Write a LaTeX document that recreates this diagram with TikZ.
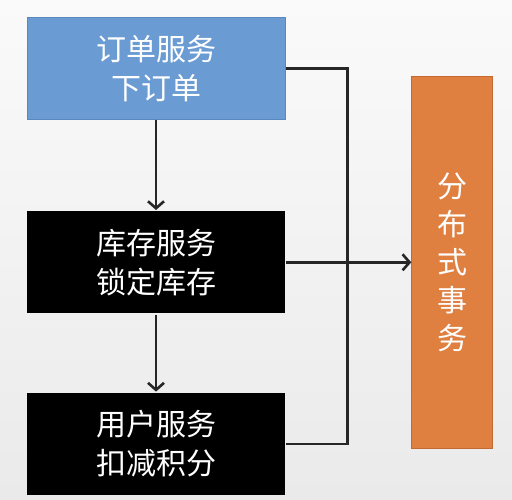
\documentclass[tikz,border=0pt]{standalone}
\usepackage{fontspec}
\newfontfamily\cjk{Noto Sans CJK SC}
\usepackage{xcolor}
\definecolor{cblue}{HTML}{6A9BD2}
\definecolor{cblueline}{HTML}{5A88BE}
\definecolor{corange}{HTML}{DF7F40}
\definecolor{corangeline}{HTML}{C46A30}
\definecolor{bgtop}{HTML}{FAFAFA}
\definecolor{bgbot}{HTML}{EAEAEA}
\usepackage{tikz}
\usetikzlibrary{arrows.meta,positioning}

\begin{document}
\begin{tikzpicture}[
  x=1pt, y=1pt, >={Straight Barb[length=7pt,width=16pt]}, line width=2.6pt, draw=black!85,
  svc/.style={rectangle, minimum width=258pt, minimum height=102pt, inner sep=0pt, text=white, align=center, font=\cjk\fontsize{30}{39}\selectfont},
  first/.style={svc, fill=cblue, draw=cblueline, line width=1pt},
  dark/.style={svc, fill=black},
  txn/.style={rectangle, fill=corange, draw=corangeline, line width=1pt, minimum width=81pt, minimum height=372pt, inner sep=0pt, text=white, align=center, font=\cjk\fontsize{30}{38}\selectfont},
]
  \shade[top color=bgtop, bottom color=bgbot] (0,0) rectangle (512,-500);
  \node[first] (order) at (156,-68.5) {订单服务\\下订单};
  \node[dark, below=90pt of order] (stock) {库存服务\\锁定库存};
  \node[dark, below=77pt of stock] (points) {用户服务\\扣减积分};
  \node[txn, right=125pt of stock] (tx) {分\\布\\式\\事\\务};
  \coordinate[right=62pt of order.east] (jt);

  \draw[->] (order) -- (stock);
  \draw[->] (stock) -- (points);
  \draw (order.east) -- (jt) |- (points.east);
  \draw[->] (stock.east) -- (stock.east -| tx.west);
\end{tikzpicture}
\end{document}
